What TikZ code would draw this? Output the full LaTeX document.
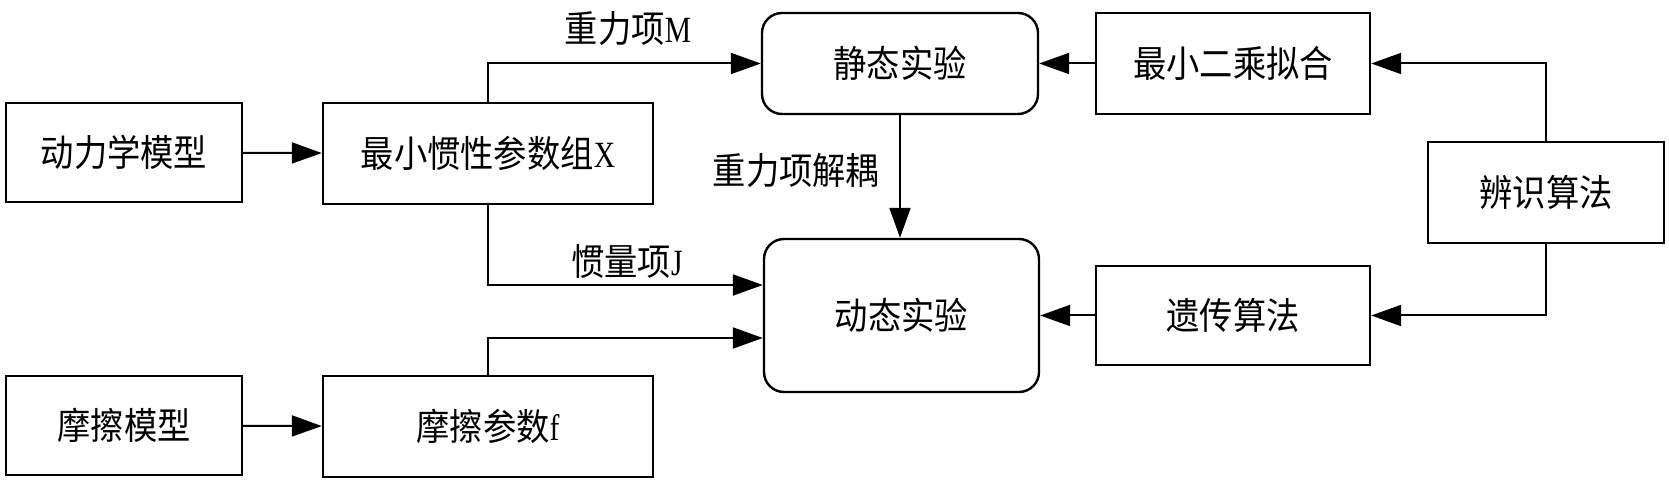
\documentclass[tikz,border=0pt]{standalone}
\usepackage{fontspec}
\newfontfamily\cjk{Noto Sans CJK SC}[FakeStretch=0.9]
\newfontfamily\lat{Liberation Serif}[FakeStretch=0.8]
\usetikzlibrary{arrows.meta,positioning}
\tikzset{
  box/.style={draw, line width=1.2pt, inner sep=0pt, align=center, font=\cjk\fontsize{18.5pt}{20pt}\selectfont},
  rbox/.style={box, rounded corners=10pt},
  conn/.style={line width=1pt, -{Triangle[length=15pt,width=10.5pt]}},
  lbl/.style={font=\cjk\fontsize{18.5pt}{20pt}\selectfont, inner sep=0pt}
}
\begin{document}
\begin{tikzpicture}[x=0.5pt,y=-0.5pt]
\useasboundingbox (0,0) rectangle (1669,480);
\node[box, minimum width=118pt, minimum height=49.5pt] (A) at (124,152.5) {动力学模型};
\node[box, minimum width=165pt, minimum height=50.5pt] (B) at (488,153.5) {最小惯性参数组{\lat X}};
\node[rbox, minimum width=138pt, minimum height=50.5pt] (S) at (900,63.5) {静态实验};
\node[box, minimum width=137pt, minimum height=50.5pt] (L) at (1233,63.5) {最小二乘拟合};
\node[box, minimum width=118pt, minimum height=50.5pt] (I) at (1546,192.5) {辨识算法};
\node[rbox, minimum width=137.5pt, minimum height=76.5pt] (D) at (901.5,315.5) {动态实验};
\node[box, minimum width=137pt, minimum height=49.5pt] (G) at (1233,315.5) {遗传算法};
\node[box, minimum width=118pt, minimum height=49.5pt] (F) at (124,425.5) {摩擦模型};
\node[box, minimum width=165pt, minimum height=50.5pt] (P) at (488,426.5) {摩擦参数{\lat f}};

\draw[conn] (A) -- (B);
\draw[conn] (F) -- (P);
\draw[conn] (B.north) |- (S.west);
\draw[conn] (B.south) |- ([yshift=15.25pt]D.west);
\draw[conn] (P.north) |- ([yshift=-11.25pt]D.west);
\draw[conn] (S.south) -- (S.south |- D.north);
\draw[conn] (L) -- (S);
\draw[conn] (G) -- (D);
\draw[conn] (I.north) |- (L.east);
\draw[conn] (I.south) |- (G.east);

\node[lbl] (lm) at (628,29) {重力项{\lat M}};
\node[lbl] (lj) at (627,261) {惯量项{\lat J}};
\node[lbl] (lg) at (796,170) {重力项解耦};
\end{tikzpicture}
\end{document}
